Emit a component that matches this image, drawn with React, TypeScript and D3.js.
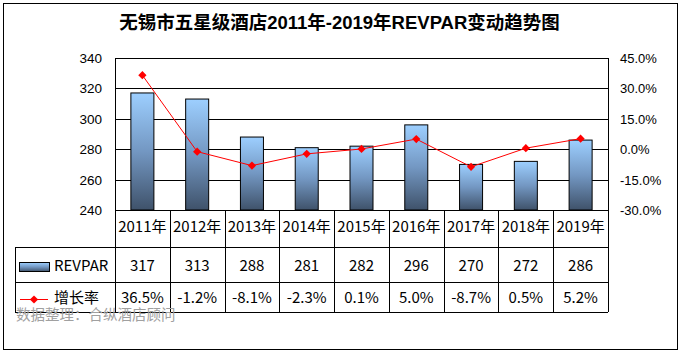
import * as d3 from "d3";

const YEARS = ["2011年", "2012年", "2013年", "2014年", "2015年", "2016年", "2017年", "2018年", "2019年"];
const REVPAR = [317, 313, 288, 281, 282, 296, 270, 272, 286];
const GROWTH = [36.5, -1.2, -8.1, -2.3, 0.1, 5.0, -8.7, 0.5, 5.2];
const GROWTH_LABELS = ["36.5%", "-1.2%", "-8.1%", "-2.3%", "0.1%", "5.0%", "-8.7%", "0.5%", "5.2%"];
const LEFT_TICKS = [240, 260, 280, 300, 320, 340];
const RIGHT_TICKS = [-30, -15, 0, 15, 30, 45];

const W = 682;
const H = 353;
const plot = { left: 115, right: 608, top: 58, bottom: 210 };
const rows = { cat: 247, rev: 282, growth: 312 };
const tableLeft = 15;

const axisFont = "'Liberation Sans', Arial, sans-serif";
const tableFont = "'Noto Sans CJK SC', 'DejaVu Sans', sans-serif";

export default function App() {
  const x = d3.scaleBand<string>().domain(YEARS).range([plot.left, plot.right]);
  const yL = d3.scaleLinear().domain([240, 340]).range([plot.bottom, plot.top]);
  const yR = d3.scaleLinear().domain([-30, 45]).range([plot.bottom, plot.top]);
  const bw = x.bandwidth() * 0.42;
  const cx = (d: string) => (x(d) ?? 0) + x.bandwidth() / 2;

  const line = d3
    .line<number>()
    .x((_, i) => cx(YEARS[i]))
    .y((d) => yR(d));
  // square turned 45 degrees, like the Excel diamond marker
  const diamond = d3.symbol().type(d3.symbolSquare).size(34)();

  const bounds = YEARS.map((d) => x(d) ?? 0).concat([plot.right]);

  return (
    <svg width={W} height={H} style={{ display: "block", position: "absolute", left: 0, top: 0 }}>
      <defs>
        <linearGradient id="barGrad" x1="0" y1="0" x2="0" y2="1">
          <stop offset="0%" stopColor="#9DCFFF" />
          <stop offset="50%" stopColor="#7397C2" />
          <stop offset="100%" stopColor="#3F526A" />
        </linearGradient>
      </defs>
      <rect x={0} y={0} width={W} height={H} fill="#fff" />
      <rect x={3.5} y={3.5} width={674} height={346} fill="none" stroke="#000" />

      <text
        x={339.5}
        y={29}
        textAnchor="middle"
        fontSize={18.5}
        fontWeight="bold"
        fontFamily={"'Liberation Sans', 'Noto Sans CJK SC', sans-serif"}
      >
        无锡市五星级酒店2011年-2019年REVPAR变动趋势图
      </text>

      {/* gridlines */}
      {LEFT_TICKS.map((t) => (
        <line key={t} x1={plot.left} x2={plot.right} y1={Math.round(yL(t)) + 0.5} y2={Math.round(yL(t)) + 0.5} stroke="#000" />
      ))}
      <line x1={plot.left + 0.5} x2={plot.left + 0.5} y1={plot.top} y2={plot.bottom} stroke="#000" />
      <line x1={plot.right + 0.5} x2={plot.right + 0.5} y1={plot.top} y2={plot.bottom} stroke="#000" />

      {/* axis labels */}
      {LEFT_TICKS.map((t) => (
        <text key={t} x={102} y={yL(t) + 5} textAnchor="end" fontSize={13.5} fontFamily={axisFont}>
          {t}
        </text>
      ))}
      {RIGHT_TICKS.map((t) => (
        <text key={t} x={620} y={yR(t) + 5} fontSize={13} fontFamily={axisFont}>
          {t.toFixed(1) + "%"}
        </text>
      ))}

      {/* bars */}
      {YEARS.map((d, i) => (
        <rect
          key={d}
          x={cx(d) - bw / 2}
          y={yL(REVPAR[i])}
          width={bw}
          height={plot.bottom - yL(REVPAR[i])}
          fill="url(#barGrad)"
          stroke="#000"
          strokeWidth={1}
        />
      ))}

      {/* growth line */}
      <path d={line(GROWTH) ?? ""} fill="none" stroke="#FF0000" strokeWidth={1} />
      {GROWTH.map((g, i) => (
        <path
          key={i}
          d={diamond ?? ""}
          transform={`translate(${cx(YEARS[i])},${yR(g)}) rotate(45)`}
          fill="#FF0000"
        />
      ))}

      {/* data table */}
      <line x1={tableLeft} x2={plot.right} y1={rows.cat + 0.5} y2={rows.cat + 0.5} stroke="#000" />
      <line x1={tableLeft} x2={plot.right} y1={rows.rev + 0.5} y2={rows.rev + 0.5} stroke="#000" />
      <line x1={tableLeft} x2={plot.right} y1={rows.growth + 0.5} y2={rows.growth + 0.5} stroke="#000" />
      <line x1={tableLeft + 0.5} x2={tableLeft + 0.5} y1={rows.cat} y2={rows.growth} stroke="#000" />
      {bounds.map((b, i) => (
        <line key={i} x1={Math.round(b) + 0.5} x2={Math.round(b) + 0.5} y1={plot.bottom} y2={rows.growth} stroke="#000" />
      ))}

      {YEARS.map((d, i) => (
        <g key={d} fontFamily={tableFont} fontSize={15} textAnchor="middle">
          <text x={cx(d)} y={232}>{d}</text>
          <text x={cx(d)} y={271}>{REVPAR[i]}</text>
          <text x={cx(d)} y={303}>{GROWTH_LABELS[i]}</text>
        </g>
      ))}

      {/* legend keys */}
      <rect x={19.5} y={262.5} width={30} height={9} fill="url(#barGrad)" stroke="#000" />
      <text x={54} y={271} fontSize={15} fontFamily={tableFont}>REVPAR</text>
      <line x1={20} x2={48} y1={299.5} y2={299.5} stroke="#FF0000" />
      <path d={diamond ?? ""} transform="translate(34,299.5) rotate(45)" fill="#FF0000" />
      <text x={54} y={303} fontSize={15} fontFamily={tableFont}>增长率</text>

      <text x={16} y={320} fontSize={14.5} fill="#A0A0A0" fontFamily={tableFont}>
        数据整理：合纵酒店顾问
      </text>
    </svg>
  );
}
